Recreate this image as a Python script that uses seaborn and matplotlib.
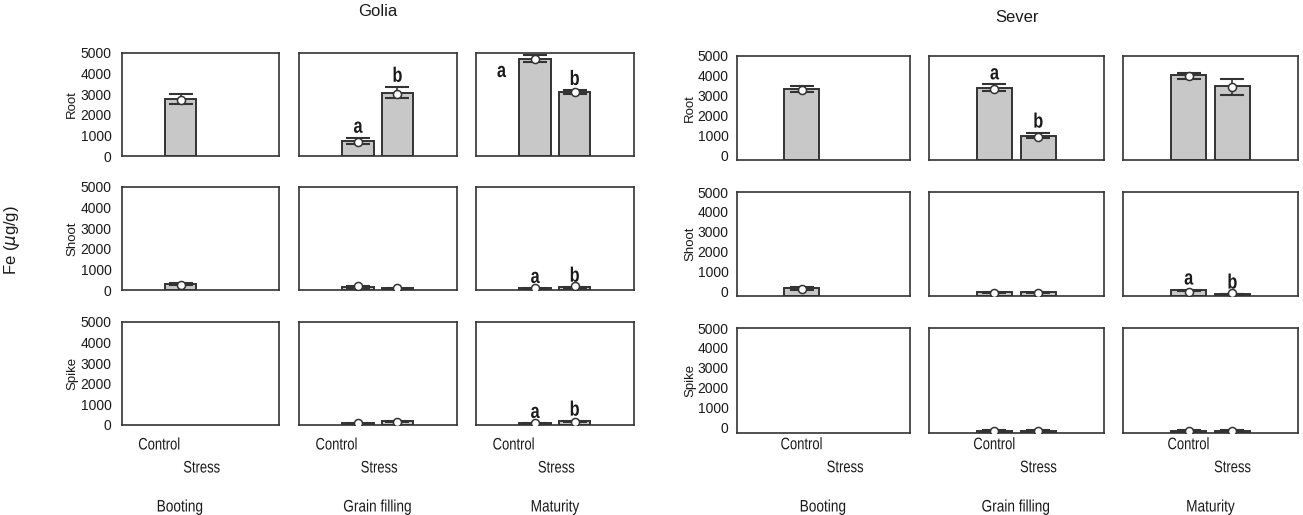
import numpy as np
import pandas as pd
import matplotlib
matplotlib.use("Agg")
import matplotlib.pyplot as plt
from matplotlib.patheffects import AbstractPathEffect
from matplotlib.transforms import Affine2D
import seaborn as sns

nan = np.nan

cultivars = ["Golia", "Sever"]
tissues = ["Root", "Shoot", "Spike"]
stages = ["Booting", "Grain filling", "Maturity"]
treatments = ["Control", "Stress"]
y_ticks = [0, 1000, 2000, 3000, 4000, 5000]

# Values are listed stage by stage: Booting C/S, Grain filling C/S, Maturity C/S
golia_root_mean = [2760, nan, 740, 3065, 4695, 3110]
golia_root_point = [2710, nan, 690, 3015, 4680, 3080]
golia_root_lo = [2530, nan, 595, 2820, 4550, 2985]
golia_root_hi = [2990, nan, 885, 3350, 4870, 3195]
golia_root_letter = ["", "", "a", "b", "a", "b"]

golia_shoot_mean = [290, nan, 150, 80, 80, 130]
golia_shoot_point = [240, nan, 170, 80, 90, 170]
golia_shoot_lo = [250, nan, 120, 60, 60, 100]
golia_shoot_hi = [320, nan, 180, 100, 100, 160]
golia_shoot_letter = ["", "", "", "", "a", "b"]

golia_spike_mean = [nan, nan, 80, 190, 80, 180]
golia_spike_point = [nan, nan, 110, 160, 90, 150]
golia_spike_lo = [nan, nan, 60, 160, 60, 150]
golia_spike_hi = [nan, nan, 100, 210, 100, 210]
golia_spike_letter = ["", "", "", "", "a", "b"]

sever_root_mean = [3300, nan, 3300, 945, 3920, 3400]
sever_root_point = [3250, nan, 3250, 900, 3870, 3320]
sever_root_lo = [3150, nan, 3150, 830, 3725, 2925]
sever_root_hi = [3465, nan, 3465, 1095, 4035, 3725]
sever_root_letter = ["", "", "a", "b", "", ""]

sever_shoot_mean = [170, nan, -60, -60, 50, -150]
sever_shoot_point = [90, nan, -110, -110, -70, -120]
sever_shoot_lo = [60, nan, -90, -90, 0, -170]
sever_shoot_hi = [180, nan, -40, -40, 70, -130]
sever_shoot_letter = ["", "", "", "", "a", "b"]

sever_spike_mean = [nan, nan, -150, -150, -150, -150]
sever_spike_point = [nan, nan, -150, -150, -150, -150]
sever_spike_lo = [nan, nan, -170, -170, -170, -170]
sever_spike_hi = [nan, nan, -130, -130, -130, -130]
sever_spike_letter = ["", "", "", "", "", ""]

series = {
    ("Golia", "Root"): (golia_root_mean, golia_root_point, golia_root_lo, golia_root_hi, golia_root_letter),
    ("Golia", "Shoot"): (golia_shoot_mean, golia_shoot_point, golia_shoot_lo, golia_shoot_hi, golia_shoot_letter),
    ("Golia", "Spike"): (golia_spike_mean, golia_spike_point, golia_spike_lo, golia_spike_hi, golia_spike_letter),
    ("Sever", "Root"): (sever_root_mean, sever_root_point, sever_root_lo, sever_root_hi, sever_root_letter),
    ("Sever", "Shoot"): (sever_shoot_mean, sever_shoot_point, sever_shoot_lo, sever_shoot_hi, sever_shoot_letter),
    ("Sever", "Spike"): (sever_spike_mean, sever_spike_point, sever_spike_lo, sever_spike_hi, sever_spike_letter),
}

rows = []
for (cv, tis), (mean, point, lo, hi, letter) in series.items():
    for k in range(6):
        rows.append(dict(cultivar=cv, tissue=tis, stage=stages[k // 2],
                         treatment=treatments[k % 2], mean=mean[k], point=point[k],
                         lo=lo[k], hi=hi[k], letter=letter[k]))
df = pd.DataFrame(rows)


class Condense(AbstractPathEffect):
    """Squeeze glyphs horizontally to imitate a condensed typeface."""

    def __init__(self, sx=0.8, anchor=0.5):
        super().__init__()
        self.sx = sx
        self.anchor = anchor

    def draw_path(self, renderer, gc, tpath, affine, rgbFace=None):
        ext = tpath.get_extents()
        x0 = ext.x0 + self.anchor * (ext.x1 - ext.x0)
        squeeze = Affine2D().translate(-x0, 0).scale(self.sx, 1).translate(x0, 0)
        renderer.draw_path(gc, tpath, squeeze + affine, rgbFace)


# ---- styling ----
sns.set_theme(style="white")
plt.rcParams["font.family"] = ["Liberation Sans", "DejaVu Sans"]
BAR_FILL = "#c8c8c8"
EDGE = "#333333"
INK = "#1a1a1a"

W, H = 1303, 515
fig = plt.figure(figsize=(W / 100, H / 100), dpi=100)
fig.patch.set_facecolor("white")

# panel frames in pixels: column (left, right), row (top, bottom)
layout = {
    "Golia": dict(cols=[(121.7, 279), (298.7, 456.7), (475.7, 634)],
                  rows=[(52.7, 156), (186.7, 290), (321.7, 425)],
                  ylim=(0, 5000), pad=7.2, tick_ha="right", anchor=1.0,
                  tick_dy=(20, 43), stage_x=[180, 377.7, 555], title_xy=(378, 12)),
    "Sever": dict(cols=[(736.7, 910), (928.7, 1104), (1123, 1298)],
                  rows=[(55.7, 160), (192, 296), (328, 432.7)],
                  ylim=(-250, 4870), pad=5.8, tick_ha="center", anchor=0.5,
                  tick_dy=(12, 35), stage_x=[823, 1016, 1210.5], title_xy=(1017, 18)),
}
row_label_x = {"Golia": 72, "Sever": 690}


def px_axes(left, right, top, bottom):
    return fig.add_axes([left / W, 1 - bottom / H, (right - left) / W, (bottom - top) / H])


letter_style = dict(fontsize=15, fontweight="bold", color=INK,
                    path_effects=[Condense(0.78)])

for cv in cultivars:
    L = layout[cv]
    floor, ceil = L["ylim"]
    for r, tis in enumerate(tissues):
        top, bottom = L["rows"][r]
        for c, st in enumerate(stages):
            left, right = L["cols"][c]
            ax = px_axes(left, right, top, bottom)
            sub = df[(df.cultivar == cv) & (df.tissue == tis) & (df.stage == st)].dropna(subset=["mean"])
            if len(sub):
                sns.barplot(data=sub, x="treatment", y="mean", order=treatments,
                            color=BAR_FILL, saturation=1, edgecolor=EDGE, linewidth=1.4,
                            width=0.8, errorbar=None, ax=ax, zorder=2)
                # bars stand on the bottom of the frame
                for p in ax.patches:
                    bar_top = p.get_y() + p.get_height()
                    p.set_y(floor)
                    p.set_height(bar_top - floor)
                xpos = sub["treatment"].map({t: i for i, t in enumerate(treatments)}).to_numpy()
                m = sub["mean"].to_numpy()
                ax.errorbar(xpos, m, yerr=[m - sub["lo"].to_numpy(), sub["hi"].to_numpy() - m],
                            fmt="none", ecolor=EDGE, elinewidth=1.2, capsize=8.8,
                            capthick=1.5, zorder=3)
                ax.plot(xpos, sub["point"], ls="none", marker="o", ms=5.8, mfc="white",
                        mec=EDGE, mew=1.1, zorder=4)
                for xi, row in zip(xpos, sub.itertuples()):
                    if not row.letter:
                        continue
                    if ceil - row.hi < 600:
                        ax.annotate(row.letter, xy=(xi - 0.4, row.mean), xytext=(-12, -3),
                                    textcoords="offset pixels", ha="right", va="top",
                                    **letter_style)
                    else:
                        ax.annotate(row.letter, xy=(xi, row.hi), xytext=(0, 5),
                                    textcoords="offset pixels", ha="center", va="baseline",
                                    **letter_style)
            ax.set_xlim(-1.5, 2.5)
            ax.set_ylim(floor, ceil)
            ax.set_xlabel("")
            ax.set_ylabel("")
            ax.set_xticks([])
            ax.set_facecolor("white")
            for s in ax.spines.values():
                s.set_visible(True)
                s.set_color(EDGE)
                s.set_linewidth(1.2)
            if c == 0:
                ax.set_yticks(y_ticks)
                ax.set_yticklabels([str(v) for v in y_ticks], fontsize=10)
                ax.tick_params(axis="y", length=0, pad=L["pad"], colors=INK)
            else:
                ax.set_yticks([])
            if r == len(tissues) - 1:
                for i, t in enumerate(treatments):
                    ax.annotate(t, xy=(i, 0), xycoords=("data", "axes fraction"),
                                xytext=(0, -L["tick_dy"][i]), textcoords="offset pixels",
                                ha=L["tick_ha"], va="center", fontsize=12, color=INK,
                                annotation_clip=False,
                                path_effects=[Condense(0.78, L["anchor"])])
        fig.text(row_label_x[cv] / W, 1 - (top + bottom) / 2 / H, tis, rotation=90,
                 ha="center", va="center", fontsize=9.5, color=INK)
    for c, st in enumerate(stages):
        fig.text(L["stage_x"][c] / W, 1 - 507 / H, st, ha="center", va="center",
                 fontsize=12, color=INK, path_effects=[Condense(0.82)])
    tx, ty = L["title_xy"]
    fig.text(tx / W, 1 - ty / H, cv, ha="center", va="center", fontsize=12, color=INK)

fig.text(12 / W, 1 - 240 / H, "Fe ($\\mu$g/g)", rotation=90, ha="center", va="center",
         fontsize=12, color=INK)

fig.savefig("out.png", dpi=100, facecolor="white")
